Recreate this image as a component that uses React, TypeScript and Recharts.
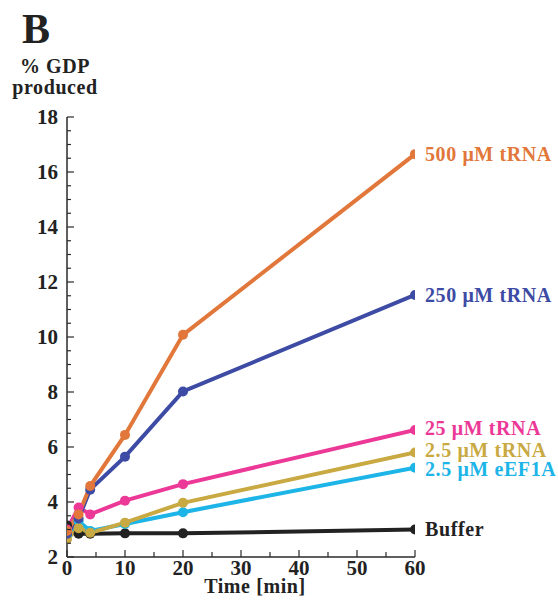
import React from 'react';
import { LineChart, Line, XAxis, YAxis } from 'recharts';

const times = [0, 2, 4, 10, 20, 60];
const s500 = [2.95, 3.55, 4.58, 6.44, 10.08, 16.65];
const s250 = [2.85, 3.4, 4.45, 5.65, 8.02, 11.53];
const s25 = [3.0, 3.8, 3.55, 4.05, 4.65, 6.62];
const s2_5 = [2.65, 3.05, 2.88, 3.25, 3.97, 5.8];
const sEEF = [2.78, 3.3, 2.95, 3.2, 3.63, 5.25];
const sBuffer = [3.15, 2.85, 2.85, 2.86, 2.86, 3.0];

const seriesNames = ['500 μM tRNA', '250 μM tRNA', '25 μM tRNA', '2.5 μM tRNA', '2.5 μM eEF1A', 'Buffer'];

const xTicks = [0, 5, 10, 15, 20, 25, 30, 35, 40, 45, 50, 55, 60];
const xMajor = [0, 10, 20, 30, 40, 50, 60];
const yTicks = [2, 2.5, 3, 3.5, 4, 4.5, 5, 5.5, 6, 6.5, 7, 7.5, 8, 8.5, 9, 9.5, 10, 10.5, 11, 11.5, 12, 12.5, 13, 13.5, 14, 14.5, 15, 15.5, 16, 16.5, 17, 17.5, 18];
const yMajor = [2, 4, 6, 8, 10, 12, 14, 16, 18];

const data = times.map((t, i) => ({
  t,
  s500: s500[i],
  s250: s250[i],
  s25: s25[i],
  s2_5: s2_5[i],
  sEEF: sEEF[i],
  sBuffer: sBuffer[i],
}));

const FONT = '"Liberation Serif", "Times New Roman", serif';
const AX = '#2a2a2a';

const LeftTick = (p: any) => {
  const v = p.payload.value;
  const major = yMajor.includes(v);
  return (
    <g>
      <line x1={p.x} x2={p.x + (major ? 7 : 4)} y1={p.y} y2={p.y} stroke={AX} strokeWidth={1.2} />
      {major && (
        <text x={p.x - 9} y={p.y} dy="0.34em" textAnchor="end" fontFamily={FONT} fontWeight="bold" fontSize={21} fill="#222">
          {v}
        </text>
      )}
    </g>
  );
};
const RightTick = (p: any) => {
  const v = p.payload.value;
  const major = yMajor.includes(v);
  return <line x1={p.x} x2={p.x - (major ? 7 : 4)} y1={p.y} y2={p.y} stroke={AX} strokeWidth={1.2} />;
};
const BottomTick = (p: any) => {
  const v = p.payload.value;
  const major = xMajor.includes(v);
  return (
    <g>
      <line x1={p.x} x2={p.x} y1={p.y} y2={p.y - (major ? 7 : 5)} stroke={AX} strokeWidth={1.2} />
      {major && (
        <text x={p.x} y={p.y + 18} textAnchor="middle" fontFamily={FONT} fontWeight="bold" fontSize={21} fill="#222">
          {v}
        </text>
      )}
    </g>
  );
};
const TopTick = (p: any) => {
  const v = p.payload.value;
  const major = xMajor.includes(v);
  return <line x1={p.x} x2={p.x} y1={p.y} y2={p.y + (major ? 7 : 5)} stroke={AX} strokeWidth={1.2} />;
};

const endLabel = (text: string, color: string, dy: number) => (p: any) => {
  if (p.index !== times.length - 1) return null;
  return (
    <text x={p.x + 10} y={p.y + dy} dy="0.35em" fontFamily={FONT} fontWeight="bold" fontSize={20} letterSpacing={0.6} fill={color}>
      {text}
    </text>
  );
};

const series = [
  { key: 'sBuffer', color: '#222222', name: seriesNames[5], dy: -1 },
  { key: 'sEEF', color: '#1DB4E8', name: seriesNames[4], dy: 1.5 },
  { key: 's2_5', color: '#C8A942', name: seriesNames[3], dy: -2.5 },
  { key: 's25', color: '#EC3896', name: seriesNames[2], dy: -2 },
  { key: 's250', color: '#3D4BA5', name: seriesNames[1], dy: 0 },
  { key: 's500', color: '#E1773A', name: seriesNames[0], dy: 0 },
];

export default function App() {
  return (
    <div style={{ position: 'absolute', left: 0, top: 0, width: 558, height: 600, background: '#fff' }}>
      <LineChart width={558} height={600} data={data} margin={{ top: 117, right: 143, bottom: 13, left: 27 }}>
        <XAxis
          dataKey="t"
          type="number"
          domain={[0, 60]}
          ticks={xTicks}
          interval={0}
          height={30}
          tickSize={0}
          tickMargin={0}
          tickLine={false}
          tick={BottomTick}
          axisLine={{ stroke: AX, strokeWidth: 1.5 }}
          allowDataOverflow
        />
        <XAxis
          xAxisId="top"
          orientation="top"
          dataKey="t"
          type="number"
          domain={[0, 60]}
          ticks={xTicks}
          interval={0}
          height={0}
          tickSize={0}
          tickMargin={0}
          tickLine={false}
          tick={TopTick}
          axisLine={{ stroke: AX, strokeWidth: 1.5 }}
          allowDataOverflow
        />
        <YAxis
          type="number"
          domain={[2, 18]}
          ticks={yTicks}
          interval={0}
          width={40}
          tickSize={0}
          tickMargin={0}
          tickLine={false}
          tick={LeftTick}
          axisLine={{ stroke: AX, strokeWidth: 1.5 }}
          allowDataOverflow
        />
        <YAxis
          yAxisId="right"
          orientation="right"
          type="number"
          domain={[2, 18]}
          ticks={yTicks}
          interval={0}
          width={0}
          tickSize={0}
          tickMargin={0}
          tickLine={false}
          tick={RightTick}
          axisLine={{ stroke: AX, strokeWidth: 1.5 }}
          allowDataOverflow
        />
        {series.map((s) => (
          <Line
            key={s.key}
            dataKey={s.key}
            name={s.name}
            stroke={s.color}
            strokeWidth={4}
            dot={{ r: 5, fill: s.color, stroke: s.color, strokeWidth: 0 }}
            activeDot={false}
            isAnimationActive={false}
            label={endLabel(s.name, s.color, s.dy)}
          />
        ))}
      </LineChart>
      <svg width={558} height={600} style={{ position: 'absolute', left: 0, top: 0, pointerEvents: 'none' }}>
        <text x={22} y={43} fontFamily={FONT} fontWeight="bold" fontSize={42} fill="#222">B</text>
        <text x={55} y={73} textAnchor="middle" fontFamily={FONT} fontWeight="bold" fontSize={20} letterSpacing={0.6} fill="#222">% GDP</text>
        <text x={55} y={94} textAnchor="middle" fontFamily={FONT} fontWeight="bold" fontSize={20} letterSpacing={0.6} fill="#222">produced</text>
        <text x={255} y={593} textAnchor="middle" fontFamily={FONT} fontWeight="bold" fontSize={20} letterSpacing={0.6} fill="#222">Time [min]</text>
      </svg>
    </div>
  );
}
